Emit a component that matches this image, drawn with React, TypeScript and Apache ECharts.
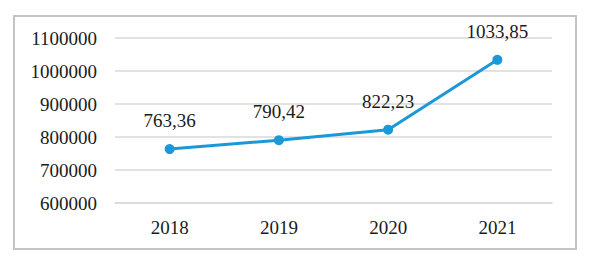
import React, { useEffect, useRef } from "react";
import * as echarts from "echarts";

const years = ["2018", "2019", "2020", "2021"];
const values = [763360, 790420, 822230, 1033850];
const yMin = 600000;
const yMax = 1100000;
const yStep = 100000;

export default function App() {
  const ref = useRef<HTMLDivElement>(null);
  useEffect(() => {
    if (!ref.current) return;
    const chart = echarts.init(ref.current, undefined, { renderer: "svg" });
    const font = "'Liberation Serif', 'Times New Roman', serif";
    chart.setOption({
      animation: false,
      backgroundColor: "#ffffff",
      grid: { left: 115, right: 42, top: 38, bottom: 61 },
      graphic: [
        {
          type: "rect",
          shape: { x: 14, y: 16, width: 562, height: 233 },
          style: { fill: "none", stroke: "#c4c4c4", lineWidth: 2 },
          silent: true,
        },
      ],
      xAxis: {
        type: "category",
        data: years,
        boundaryGap: true,
        axisLine: { show: true, lineStyle: { color: "#d9d9d9", width: 1.5 } },
        axisTick: { show: false },
        axisLabel: { color: "#1a1a1a", fontFamily: font, fontSize: 19, margin: 15 },
      },
      yAxis: {
        type: "value",
        min: yMin,
        max: yMax,
        interval: yStep,
        axisLine: { show: false },
        axisTick: { show: false },
        splitLine: { lineStyle: { color: "#d9d9d9", width: 1.5 } },
        axisLabel: {
          color: "#1a1a1a",
          fontFamily: font,
          fontSize: 19,
          margin: 18,
          formatter: (v: number) => String(v),
        },
      },
      series: [
        {
          type: "line",
          data: values,
          symbol: "circle",
          symbolSize: 10,
          lineStyle: { color: "#1b98d8", width: 3 },
          itemStyle: { color: "#1b98d8" },
          label: {
            show: true,
            position: "top",
            distance: 14,
            color: "#1a1a1a",
            fontFamily: font,
            fontSize: 19,
            formatter: (p: any) => (p.value / 1000).toFixed(2).replace(".", ","),
          },
        },
      ],
    });
    return () => chart.dispose();
  }, []);
  return (
    <div
      ref={ref}
      style={{ position: "absolute", left: 0, top: 0, width: 594, height: 264 }}
    />
  );
}
